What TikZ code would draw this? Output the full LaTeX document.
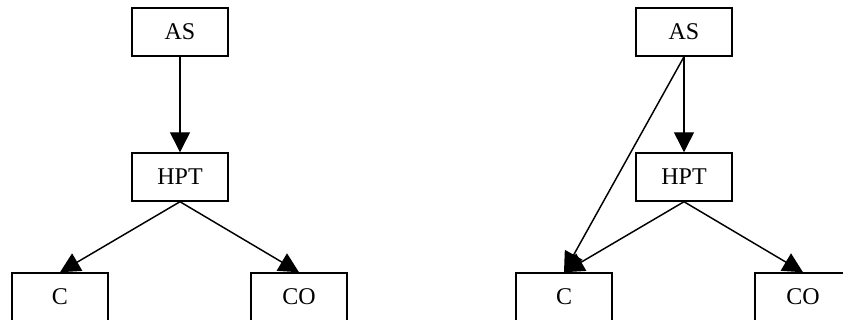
\documentclass[tikz,border=0pt]{standalone}
\usepackage{fontspec}
\setmainfont{Liberation Serif}
\usetikzlibrary{arrows.meta,backgrounds}
\begin{document}
\begin{tikzpicture}[x=0.75pt,y=-0.75pt,
    box/.style={draw,fill=white,line width=1.1pt,minimum width=72pt,minimum height=36pt,inner sep=0pt,font=\fontsize{18}{21}\selectfont},
    edge/.style={line width=1.1pt,-{Triangle[length=15pt,width=15pt]}}]
\useasboundingbox (0,0) rectangle (843,320);
\clip (0,0) rectangle (843,320);
\foreach \g/\dx in {1/0, 2/504} {
    \node[box] (AS\g) at (180+\dx,32) {AS};
    \node[box] (HPT\g) at (180+\dx,177) {HPT};
    \node[box] (C\g) at (60+\dx,297) {C};
    \node[box] (CO\g) at (299+\dx,297) {CO};
}
\begin{scope}[on background layer]
    \foreach \g in {1, 2} {
        \draw[edge] (AS\g) -- (HPT\g);
        \draw[edge] (HPT\g.south) -- (C\g.north);
        \draw[edge] (HPT\g.south) -- (CO\g.north);
    }
    \draw[edge] (AS2.south) -- (C2.north);
\end{scope}
\end{tikzpicture}
\end{document}
